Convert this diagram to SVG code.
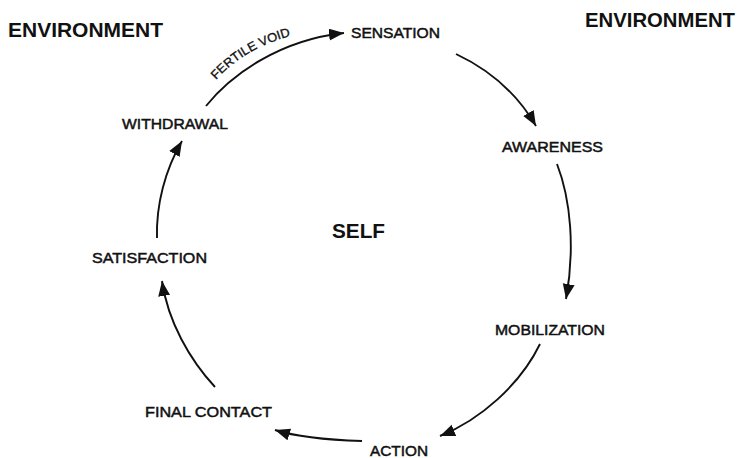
<svg xmlns="http://www.w3.org/2000/svg" width="740" height="458" viewBox="0 0 740 458">
<style>
  .bg { fill: #ffffff; }
  .lbl { font-family: "Liberation Sans", Arial, sans-serif; font-size: 15.5px; fill: #111; stroke: #111; stroke-width: 0.5px; }
  .big { font-family: "Liberation Sans", Arial, sans-serif; font-size: 20px; font-weight: bold; fill: #111; }
  .self { font-family: "Liberation Sans", Arial, sans-serif; font-size: 20px; font-weight: bold; fill: #111; }
  .small { font-family: "Liberation Sans", Arial, sans-serif; font-size: 12.5px; fill: #111; stroke: #111; stroke-width: 0.35px; }
  .arc { fill: none; stroke: #111; stroke-width: 1.9; marker-end: url(#ah); }
</style>
<defs>
  <marker id="ah" markerUnits="userSpaceOnUse" markerWidth="18" markerHeight="14" refX="15" refY="6" orient="auto">
    <path d="M0,0 L15,6 L0,12 z" fill="#111"/>
  </marker>
  <path id="fvpath" d="M216,80 C236,58 262,42 302,33"/>
</defs>
<rect class="bg" x="0" y="0" width="740" height="458"/>

<g id="env-left"><text class="big" x="8" y="37" textLength="155" lengthAdjust="spacingAndGlyphs">ENVIRONMENT</text></g>
<g id="env-right"><text class="big" x="585" y="27" textLength="150" lengthAdjust="spacingAndGlyphs">ENVIRONMENT</text></g>
<g id="self"><text class="self" x="332" y="238" textLength="53" lengthAdjust="spacingAndGlyphs">SELF</text></g>

<g id="sensation"><text class="lbl" x="351" y="38" textLength="89" lengthAdjust="spacingAndGlyphs">SENSATION</text></g>
<g id="awareness"><text class="lbl" x="502" y="152" textLength="101" lengthAdjust="spacingAndGlyphs">AWARENESS</text></g>
<g id="mobilization"><text class="lbl" x="495" y="335" textLength="110" lengthAdjust="spacingAndGlyphs">MOBILIZATION</text></g>
<g id="action"><text class="lbl" x="370" y="456" textLength="58" lengthAdjust="spacingAndGlyphs">ACTION</text></g>
<g id="final-contact"><text class="lbl" x="145" y="417" textLength="127" lengthAdjust="spacingAndGlyphs">FINAL CONTACT</text></g>
<g id="satisfaction"><text class="lbl" x="92" y="263" textLength="115" lengthAdjust="spacingAndGlyphs">SATISFACTION</text></g>
<g id="withdrawal"><text class="lbl" x="122" y="129" textLength="106" lengthAdjust="spacingAndGlyphs">WITHDRAWAL</text></g>

<g id="connectors">
  <path class="arc" d="M206,106 C232,74 280,40 344,33"/>
  <path class="arc" d="M456,54 C490,70 518,95 536,126"/>
  <path class="arc" d="M557,164 C571,200 575,250 566,299"/>
  <path class="arc" d="M540,344 C520,385 480,420 440,436"/>
  <path class="arc" d="M362,441 C330,440 300,438 275,430"/>
  <path class="arc" d="M215,387 C190,360 168,322 162,281"/>
  <path class="arc" d="M157,238 C156,205 165,170 182,141"/>
  <text class="small"><textPath href="#fvpath" textLength="88" lengthAdjust="spacingAndGlyphs">FERTILE VOID</textPath></text>
</g>
</svg>
